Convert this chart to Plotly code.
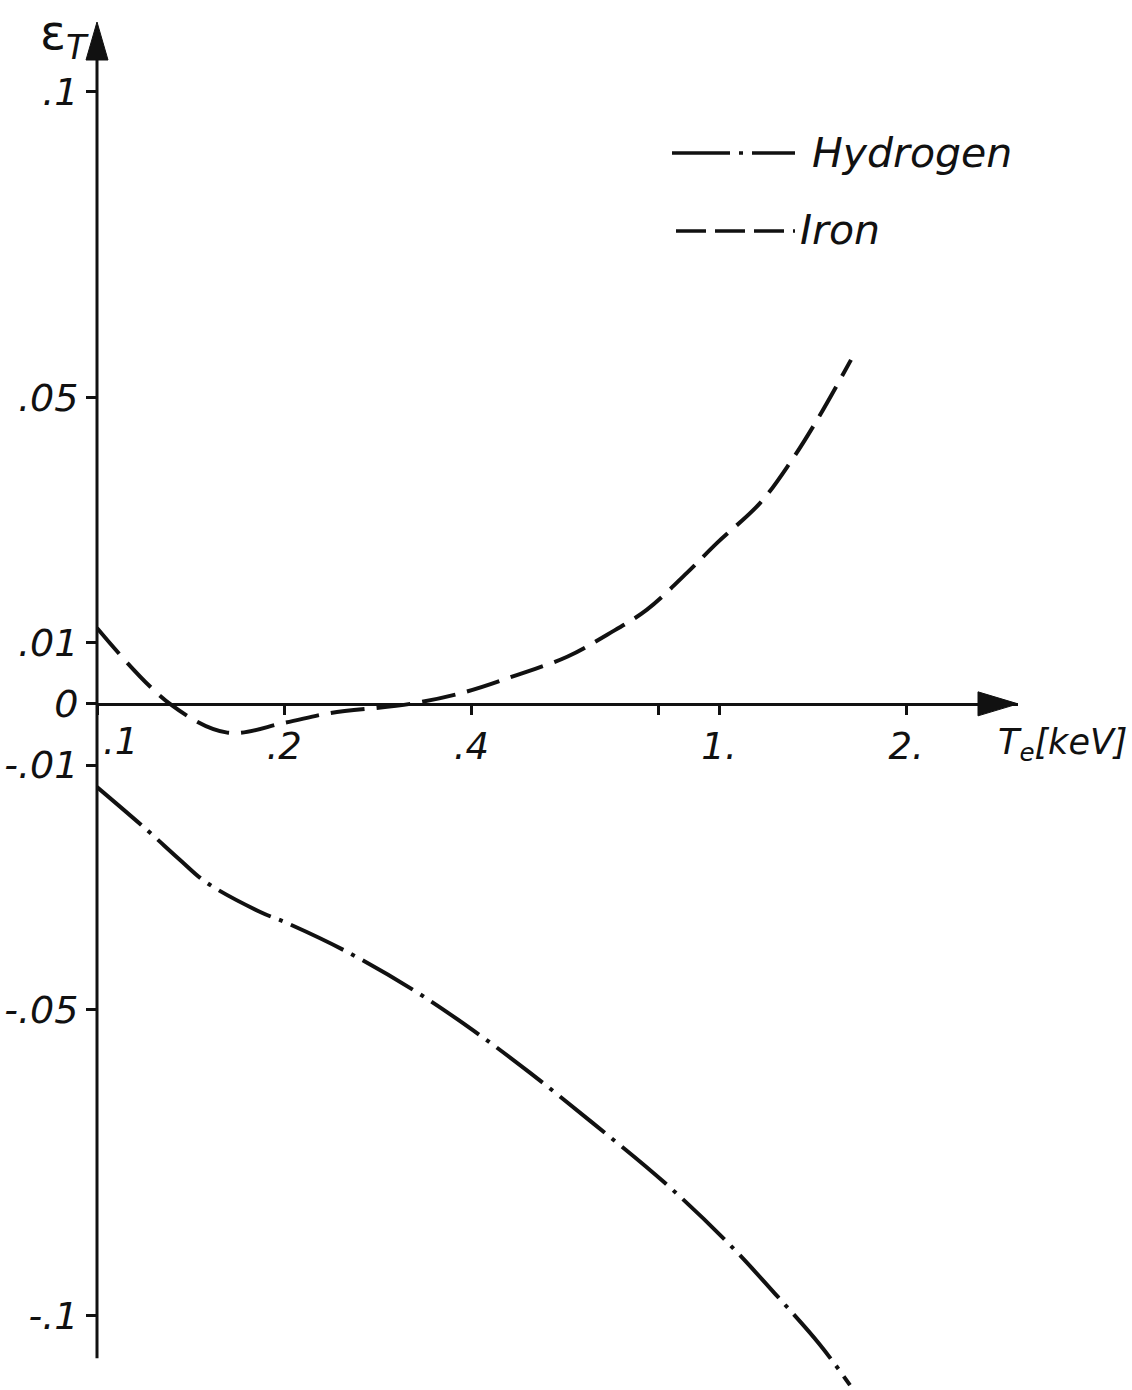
import math
import plotly.graph_objects as go

# ---- data ----
iron_T = [0.1, 0.131, 0.162, 0.2, 0.237, 0.319, 0.393, 0.473, 0.570, 0.661,
          0.766, 0.888, 0.993, 1.164, 1.301, 1.438, 1.630]
iron_eps = [0.0124, 0.0, -0.0047, -0.0031, -0.0015, 0.0, 0.0020, 0.0047, 0.0077,
            0.0113, 0.0154, 0.0214, 0.0263, 0.0328, 0.0394, 0.0464, 0.0562]

hyd_T = [0.1, 0.1203, 0.136, 0.150, 0.183, 0.202, 0.249, 0.322, 0.402, 0.497,
         0.627, 0.819, 1.030, 1.244, 1.453, 1.624]
hyd_eps = [-0.0136, -0.0206, -0.0255, -0.0292, -0.0340, -0.0358, -0.0402, -0.0467,
           -0.0533, -0.0603, -0.0685, -0.0783, -0.0879, -0.0969, -0.1047, -0.1113]

x_first_tick = 0.1
x_first_label = ".1"
x_tickvals = [0.2, 0.4, 1.0, 2.0]
x_ticktext = [".2", ".4", "1.", "2."]
x_minor_tickvals = [0.1, 0.8]
y_tickvals = [-0.1, -0.05, -0.01, 0.0, 0.01, 0.05, 0.1]
y_ticktext = ["-.1", "-.05", "-.01", "0", ".01", ".05", ".1"]

# ---- layout geometry ----
W, H = 1132, 1390
ML, MR, MT, MB = 97, 114, 22, 0
X_RANGE = [-1.0, 0.4807]          # log10 keV
Y_RANGE = [-0.1121, 0.1114]
Y_AXIS_BOTTOM = -0.1069

PW = W - ML - MR
PH = H - MT - MB


def px(xp):
    return (xp - ML) / PW


def py(yp):
    return (H - MB - yp) / PH


FONT = "DejaVu Sans"
ink = "#111111"
LW = 4
dash_h = "58px,9px,4px,9px"
dash_fe = "34px,12px"

fig = go.Figure()
fig.add_trace(go.Scatter(x=hyd_T, y=hyd_eps, mode="lines", name="Hydrogen",
                         line=dict(color=ink, width=LW, dash=dash_h,
                                   shape="spline", smoothing=1.0)))
fig.add_trace(go.Scatter(x=iron_T, y=iron_eps, mode="lines", name="Iron",
                         line=dict(color=ink, width=LW, dash=dash_fe,
                                   shape="spline", smoothing=1.0)))

zero_pos = (0 - Y_RANGE[0]) / (Y_RANGE[1] - Y_RANGE[0])
tick_font = dict(family=FONT, size=37, style="italic", color=ink)

fig.update_layout(
    width=W, height=H,
    margin=dict(l=ML, r=MR, t=MT, b=MB, pad=0),
    paper_bgcolor="white", plot_bgcolor="white",
    showlegend=False,
    font=dict(family=FONT, color=ink),
    xaxis=dict(type="log", range=X_RANGE, anchor="free", position=zero_pos,
               showline=True, linecolor=ink, linewidth=3,
               ticks="outside", ticklen=9, tickwidth=2.5, tickcolor=ink,
               tickvals=x_tickvals, ticktext=x_ticktext,
               minor=dict(tickvals=x_minor_tickvals, ticks="outside",
                          ticklen=9, tickwidth=2.5, tickcolor=ink, showgrid=False),
               tickfont=tick_font,
               showgrid=False, zeroline=False),
    yaxis=dict(range=Y_RANGE, showline=False,
               ticks="outside", ticklen=10, tickwidth=2.5, tickcolor=ink,
               tickvals=y_tickvals, ticktext=y_ticktext,
               tickfont=dict(family=FONT, size=38, style="italic", color=ink),
               showgrid=False, zeroline=False),
)

shapes = []
# vertical axis line
shapes.append(dict(type="line", xref="paper", yref="y", x0=0, x1=0,
                   y0=Y_AXIS_BOTTOM, y1=Y_RANGE[1] - 0.004,
                   line=dict(color=ink, width=3)))
# arrow heads
shapes.append(dict(type="path", xref="paper", yref="paper",
                   xsizemode="pixel", ysizemode="pixel", xanchor=0, yanchor=1,
                   path="M -11,-38 L 0,0 L 11,-38 Z",
                   fillcolor=ink, line=dict(color=ink, width=1)))
shapes.append(dict(type="path", xref="paper", yref="paper",
                   xsizemode="pixel", ysizemode="pixel", xanchor=1, yanchor=zero_pos,
                   path="M 0,0 L -40,12 L -40,-12 Z",
                   fillcolor=ink, line=dict(color=ink, width=1)))
# legend samples
shapes.append(dict(type="line", xref="paper", yref="paper",
                   x0=px(672), x1=px(795), y0=py(153), y1=py(153),
                   line=dict(color=ink, width=3.5, dash=dash_h)))
shapes.append(dict(type="line", xref="paper", yref="paper",
                   x0=px(676), x1=px(795), y0=py(231), y1=py(231),
                   line=dict(color=ink, width=3.5, dash="30px,9px")))
fig.update_layout(shapes=shapes)

# first x tick label, drawn a little right of the vertical axis as in the original
fig.add_annotation(text=x_first_label, xref="x", yref="y",
                   x=math.log10(x_first_tick), y=0, xanchor="left", yanchor="top",
                   xshift=4, yshift=-14, showarrow=False, font=tick_font)

ann_font = dict(family=FONT, size=41, style="italic", color=ink)
fig.add_annotation(text="Hydrogen", xref="paper", yref="paper",
                   x=px(810), y=py(153), xanchor="left", yanchor="middle",
                   showarrow=False, font=ann_font)
fig.add_annotation(text="Iron", xref="paper", yref="paper",
                   x=px(798), y=py(230), xanchor="left", yanchor="middle",
                   showarrow=False, font=ann_font)
fig.add_annotation(text="T<sub>e</sub>[keV]", xref="paper", yref="paper",
                   x=px(996), y=py(745), xanchor="left", yanchor="middle",
                   showarrow=False, font=dict(family=FONT, size=35, style="italic", color=ink))
fig.add_annotation(text="ε<sub><i>T</i></sub>", xref="paper", yref="paper",
                   x=px(38), y=py(36), xanchor="left", yanchor="middle",
                   showarrow=False, font=dict(family=FONT, size=48, color=ink))

fig.write_html("out.html")
